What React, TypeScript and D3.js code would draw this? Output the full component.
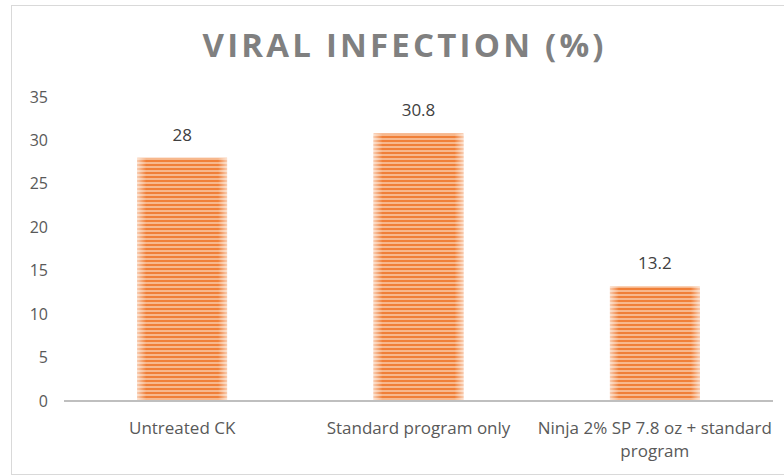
import React from "react";
import * as d3 from "d3";

const categories = ["Untreated CK", "Standard program only", "Ninja 2% SP 7.8 oz + standard program"];
const categoryLines = [["Untreated CK"], ["Standard program only"], ["Ninja 2% SP 7.8 oz + standard", "program"]];
const values = [28, 30.8, 13.2];
const valueLabels = ["28", "30.8", "13.2"];
const yTicks = [0, 5, 10, 15, 20, 25, 30, 35];
const title = "VIRAL INFECTION (%)";

const W = 784;
const H = 476;
const FONT = "'Open Sans', sans-serif";

export default function App() {
  const x = d3.scaleBand<string>().domain(categories).range([64, 773]).paddingInner(0.62).paddingOuter(0.31);
  const y = d3.scaleLinear().domain([0, 35]).range([401, 97]);
  return (
    <svg width={W} height={H} style={{ position: "absolute", left: 0, top: 0, background: "#fff" }}>
      <defs>
        <pattern id="stripes" patternUnits="userSpaceOnUse" width={8} height={4}>
          <rect width={8} height={4} fill="#F07F38" />
          <rect y={2.2} width={8} height={1.6} fill="#F9C6A2" />
        </pattern>
        <linearGradient id="edge" x1="0" x2="1" y1="0" y2="0">
          <stop offset="0" stopColor="#fff" stopOpacity={0.6} />
          <stop offset="0.1" stopColor="#fff" stopOpacity={0} />
          <stop offset="0.9" stopColor="#fff" stopOpacity={0} />
          <stop offset="1" stopColor="#fff" stopOpacity={0.6} />
        </linearGradient>
      </defs>
      <rect x={11.5} y={5.5} width={W} height={469} fill="#fff" stroke="#D9D9D9" strokeWidth={1} />
      <text x={403} y={57} textAnchor="middle" fontFamily={FONT} fontWeight="bold" fontSize={33} fill="#808080" textLength={401} lengthAdjust="spacing">
        {title}
      </text>
      {yTicks.map((t) => (
        <text key={t} x={48} y={y(t)} dy="0.35em" textAnchor="end" fontFamily={FONT} fontSize={16} fill="#595959">
          {t}
        </text>
      ))}
      {categories.map((c, i) => {
        const bx = x(c)!;
        const bw = x.bandwidth();
        const by = y(values[i]);
        const bh = y(0) - by;
        return (
          <g key={c}>
            <rect x={bx} y={by} width={bw} height={bh} fill="url(#stripes)" />
            <rect x={bx} y={by} width={bw} height={bh} fill="url(#edge)" />
            <text x={bx + bw / 2} y={by - 17} textAnchor="middle" fontFamily={FONT} fontSize={17} fill="#404040">
              {valueLabels[i]}
            </text>
            {categoryLines[i].map((line, j) => (
              <text key={j} x={bx + bw / 2} y={434 + j * 23} textAnchor="middle" fontFamily={FONT} fontSize={17} fill="#595959">
                {line}
              </text>
            ))}
          </g>
        );
      })}
      <line x1={64} x2={773} y1={y(0)} y2={y(0)} stroke="#BFBFBF" strokeWidth={2} />
    </svg>
  );
}
